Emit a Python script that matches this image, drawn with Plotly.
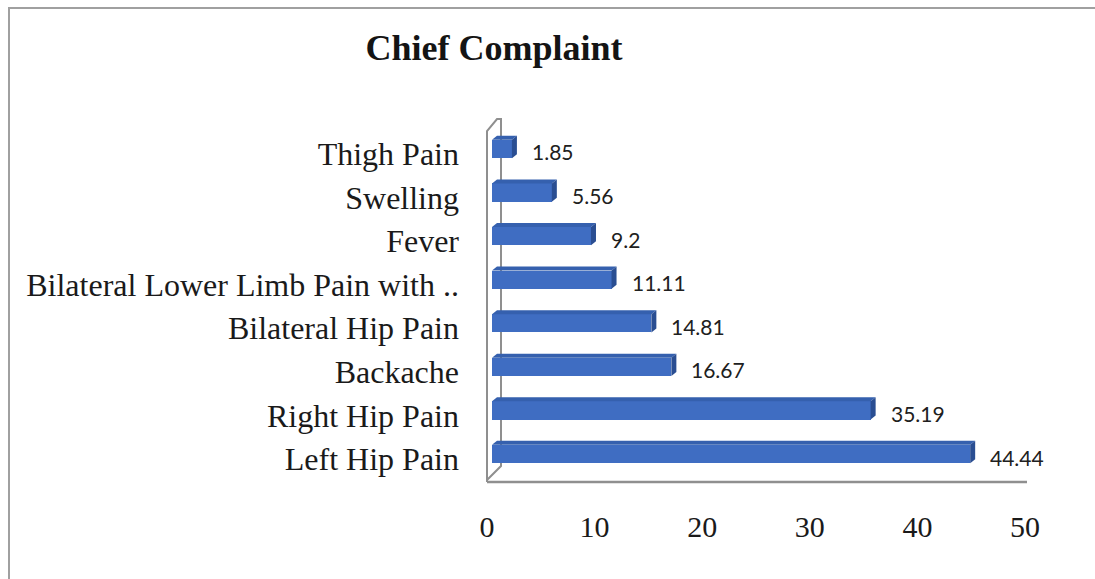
import plotly.graph_objects as go

# Chief complaint shares (%), listed bottom-to-top as drawn on the chart
categories = [
    "Left Hip Pain",
    "Right Hip Pain",
    "Backache",
    "Bilateral Hip Pain",
    "Bilateral Lower Limb Pain with ..",
    "Fever",
    "Swelling",
    "Thigh Pain",
]
values = [44.44, 35.19, 16.67, 14.81, 11.11, 9.2, 5.56, 1.85]
x_ticks = [0, 10, 20, 30, 40, 50]

W, H = 1095, 579
FRONT = "#3F6DC2"
TOP = "#3560AE"
SIDE = "#2A4E92"
EDGE = "#8F8F8F"

# Plot area in pixels
x_left_px, x_right_px = 492, 1030          # value 0 .. 50
y_floor_px, y_top_px = 482, 120
x_min, x_max = 0, 50
px_per_unit = (x_right_px - x_left_px) / (x_max - x_min)
y_step_px = (454 - 149) / 7                 # pixels between category rows
y_lo = -(y_floor_px - 454) / y_step_px
y_hi = (454 - y_top_px) / y_step_px

half = 0.21                                 # half bar thickness (row units)
dx = 5 / px_per_unit                        # 3-D depth along x (data units)
dy = 4 / y_step_px                          # 3-D depth along y (row units)

idx = list(range(len(categories)))


def px(x):
    return x / W


def py(y):
    return 1 - y / H


fig = go.Figure()
fig.add_trace(go.Bar(
    x=values, y=idx, orientation="h", width=2 * half,
    marker=dict(color=FRONT, line=dict(width=0)),
    hoverinfo="x+y", showlegend=False,
))

shapes = []
# top and right faces of each bar
for i, v in zip(idx, values):
    shapes.append(dict(
        type="path", xref="x", yref="y", layer="above",
        path=f"M 0,{i+half} L {dx},{i+half+dy} L {v+dx},{i+half+dy} L {v},{i+half} Z",
        fillcolor=TOP, line=dict(width=0),
    ))
    shapes.append(dict(
        type="path", xref="x", yref="y", layer="above",
        path=f"M {v},{i-half} L {v+dx},{i-half+dy} L {v+dx},{i+half+dy} L {v},{i+half} Z",
        fillcolor=SIDE, line=dict(width=0),
    ))

# side wall (two verticals with slanted ends) and floor edge, in paper space
shapes.append(dict(
    type="path", xref="paper", yref="paper", layer="below",
    path=(f"M {px(487)},{py(482)} L {px(487)},{py(131)} L {px(497)},{py(119)} "
          f"L {px(501)},{py(119)} L {px(501)},{py(466)} L {px(487)},{py(480)}"),
    line=dict(color=EDGE, width=2),
))
shapes.append(dict(
    type="line", xref="paper", yref="paper", layer="below",
    x0=px(487), x1=px(1027), y0=py(482), y1=py(482),
    line=dict(color=EDGE, width=2.5),
))
# chart frame
shapes.append(dict(
    type="rect", xref="paper", yref="paper",
    x0=px(9), x1=1.02, y0=-0.02, y1=py(8),
    line=dict(color="#A0A0A0", width=2), fillcolor="rgba(0,0,0,0)",
))

annotations = [
    dict(x=v + dx, y=i, xref="x", yref="y", text=f"{v:g}", showarrow=False,
         xanchor="left", yanchor="middle", xshift=13, yshift=-3,
         font=dict(family="Lato", size=21, color="#202020"))
    for i, v in zip(idx, values)
]

fig.update_layout(
    template="none",
    width=W, height=H,
    margin=dict(l=0, r=0, t=0, b=0, pad=0),
    paper_bgcolor="white", plot_bgcolor="rgba(0,0,0,0)",
    title=dict(text="<b>Chief Complaint</b>", x=494 / W, y=1 - 47 / H,
               xanchor="center", yanchor="middle",
               font=dict(family="Liberation Serif", size=36, color="#141414")),
    xaxis=dict(
        domain=[x_left_px / W, x_right_px / W], range=[x_min, x_max],
        tickvals=x_ticks, ticktext=[str(t) for t in x_ticks],
        showgrid=False, zeroline=False, showline=False, ticks="",
        automargin=False,
        ticklabelstandoff=24, ticklabelshift=-5,
        tickfont=dict(family="Liberation Serif", size=30, color="#1a1a1a"),
    ),
    yaxis=dict(
        domain=[1 - y_floor_px / H, 1 - y_top_px / H], range=[y_lo, y_hi],
        tickvals=idx, ticktext=categories,
        showgrid=False, zeroline=False, showline=False, ticks="",
        automargin=False,
        ticklabelstandoff=32, ticklabelshift=5,
        tickfont=dict(family="Liberation Serif", size=32, color="#1a1a1a"),
    ),
    shapes=shapes,
    annotations=annotations,
    bargap=0,
)

fig.write_html("out.html")
